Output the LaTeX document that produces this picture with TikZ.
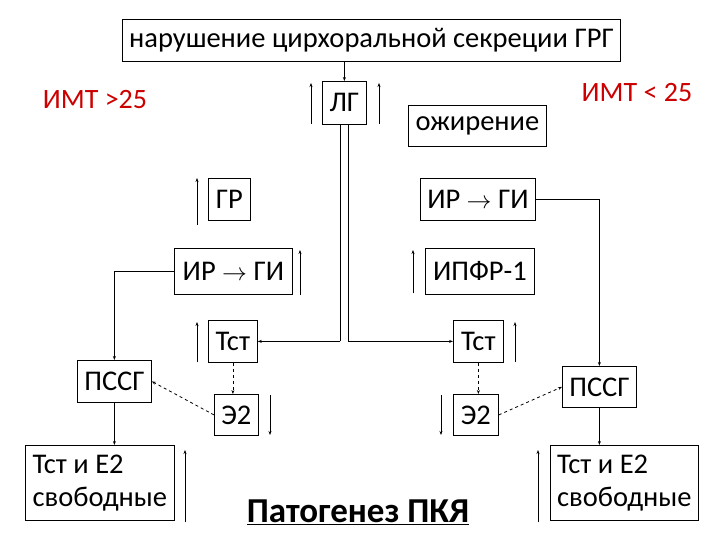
\documentclass[tikz,border=0pt]{standalone}
\usepackage{fontspec}
\setmainfont{Carlito}
\usetikzlibrary{arrows.meta}
\begin{document}
\begin{tikzpicture}[x=1pt,y=-1pt,
 bx/.style={draw,thick,inner sep=0pt,font=\fontsize{28.5}{33}\selectfont},
 ar/.style={-{Stealth[length=4pt,width=3pt]},thick},
 sd/.style={-{Stealth[length=4pt,width=3pt]},semithick},
 da/.style={-{Stealth[length=4pt,width=3pt]},thick,dashed},
 lab/.style={text=red!80!black,font=\fontsize{28}{32}\selectfont}]
\useasboundingbox (0,0) rectangle (720,540);
\fill[white] (0,0) rectangle (720,540);
\newcommand\bb[6]{\node[bx,minimum width=#3-#2,minimum height=#5-#4,anchor=north west] (#1) at (#2,#4) {#6};}
\bb{top}{122}{620}{19}{61}{нарушение цирхоральной секреции ГРГ}
\bb{lg}{322}{366}{81}{124}{ЛГ}
\bb{ob}{408}{546}{105}{146}{ожирение}
\bb{gr}{208}{250}{178}{220}{ГР}
\bb{irr}{420}{535}{178}{220}{ИР $\rightarrow$ ГИ}
\bb{irl}{174}{292}{248}{294}{ИР $\rightarrow$ ГИ}
\bb{ip}{425}{534}{248}{294}{ИПФР-1}
\bb{tl}{208}{257}{320}{362}{Тст}
\bb{tr}{453}{503}{320}{362}{Тст}
\bb{pl}{77}{151}{360}{402}{ПССГ}
\bb{el}{214}{258}{394}{435}{Э2}
\bb{er}{453}{498}{394}{435}{Э2}
\bb{pr}{562}{636}{366}{407}{ПССГ}
\node[bx,minimum width=149,minimum height=75,anchor=north west,align=left] (fl) at (25,445) {Тст и Е2\\свободные};
\node[bx,minimum width=148,minimum height=75,anchor=north west,align=left] (fr) at (550,445) {Тст и Е2\\свободные};
\node[font=\fontsize{35}{40}\selectfont\bfseries] (title) at (358,512) {\underline{Патогенез ПКЯ}};
\node[lab] (imt1) at (95,100) {ИМТ >25};
\node[lab] (imt2) at (637,93) {ИМТ < 25};
% connectors
\draw[sd] (top.south -| lg) -- (lg.north);
\draw[ultra thick] (lg.south) ++(-4,0) coordinate (a1) -- (a1 |- tl.east) coordinate (a2);
\draw[ar] (a2) -- (tl.east);
\draw[ultra thick] (lg.south) ++(4,0) coordinate (b1) -- (b1 |- tr.west) coordinate (b2);
\draw[ar] (b2) -- (tr.west);
\draw[thick] (irr.east) -- (irr.east -| pr.north) coordinate (c1);
\draw[ar] (c1) -- (pr.north);
\draw (irl.west) -- (irl.west -| pl.north) coordinate (d1);
\draw[ar] (d1) -- (pl.north);
\draw[ar] (pl.south) -- (fl.north -| pl.south);
\draw[ar] (pr.south) -- (fr.north -| pr.south);
\draw[da] (tl.south) -- (tl.south |- el.north);
\draw[da] (tr.south) -- (tr.south |- er.north);
\draw[da] (el.west) -- (pl.east);
\draw[da] (er.east) -- (pr.west);
% side arrows
\coordinate (s1a) at (311,124); \coordinate (s1b) at (311,83); \draw[ar] (s1a) -- (s1b);
\coordinate (s2a) at (379,124); \coordinate (s2b) at (379,83); \draw[ar] (s2a) -- (s2b);
\coordinate (s3a) at (197,225); \coordinate (s3b) at (197,178); \draw[ar] (s3a) -- (s3b);
\coordinate (s4a) at (300,295); \coordinate (s4b) at (300,250); \draw[ar] (s4a) -- (s4b);
\coordinate (s5a) at (413,293); \coordinate (s5b) at (413,250); \draw[ar] (s5a) -- (s5b);
\coordinate (s6a) at (197,362); \coordinate (s6b) at (197,322); \draw[ar] (s6a) -- (s6b);
\coordinate (s7a) at (515,362); \coordinate (s7b) at (515,322); \draw[ar] (s7a) -- (s7b);
\coordinate (s8a) at (270,395); \coordinate (s8b) at (270,435); \draw[ar] (s8a) -- (s8b);
\coordinate (s9a) at (441,395); \coordinate (s9b) at (441,435); \draw[ar] (s9a) -- (s9b);
\coordinate (s10a) at (185,522); \coordinate (s10b) at (185,450); \draw[ar] (s10a) -- (s10b);
\coordinate (s11a) at (538,522); \coordinate (s11b) at (538,450); \draw[ar] (s11a) -- (s11b);
\end{tikzpicture}
\end{document}
